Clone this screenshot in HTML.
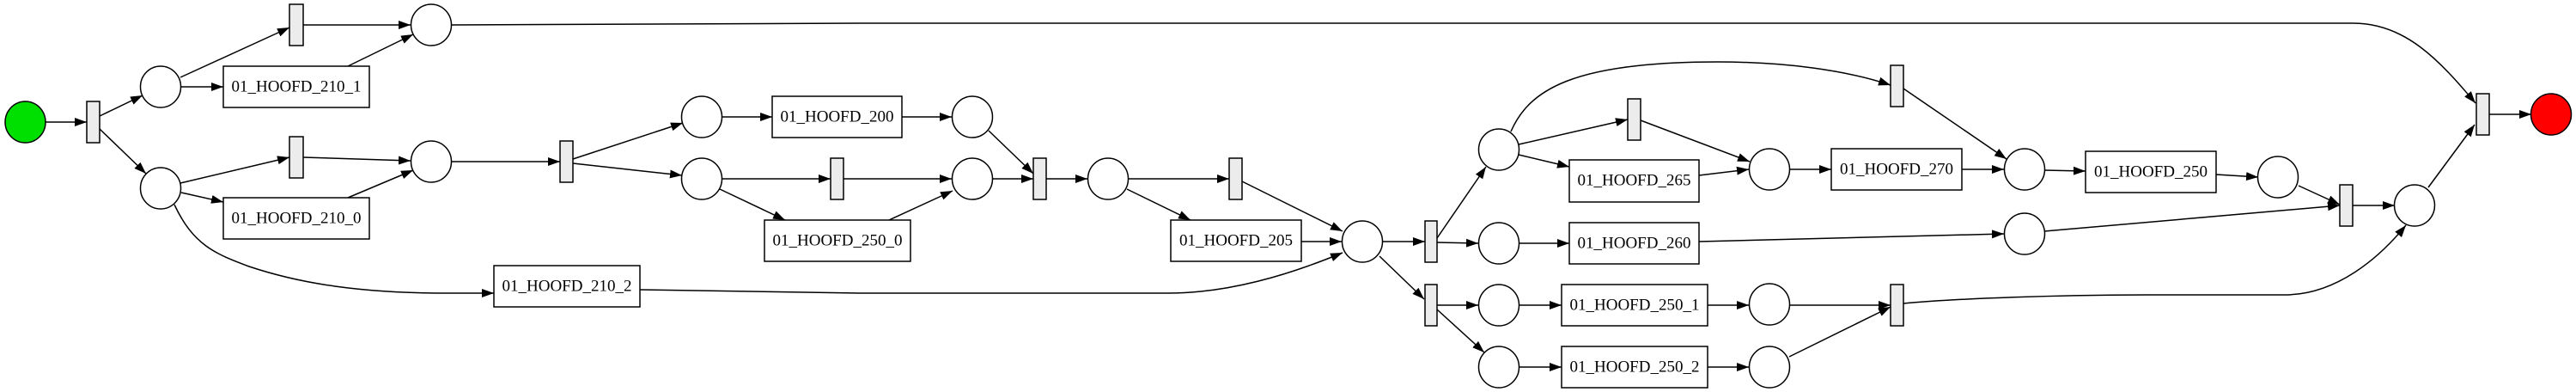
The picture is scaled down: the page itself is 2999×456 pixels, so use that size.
<!DOCTYPE html>
<html><head><meta charset="utf-8"><style>
html,body{margin:0;padding:0;background:#fff;}
svg{display:block;}
text{font-family:"Liberation Serif",serif;font-size:19px;text-anchor:middle;dominant-baseline:central;fill:#000;}
</style></head><body>
<svg width="2999" height="456" viewBox="0 0 2999 456" xmlns="http://www.w3.org/2000/svg">
<defs><marker id="a" markerUnits="userSpaceOnUse" markerWidth="15" markerHeight="11" refX="14" refY="5" orient="auto"><path d="M0,0 L14,5 L0,10 z" fill="#000"/></marker></defs>
<g fill="none" stroke="#000" stroke-width="1.5" marker-end="url(#a)">
<line x1="53" y1="142" x2="101" y2="142"/>
<line x1="116" y1="135" x2="166" y2="111"/>
<line x1="116" y1="150" x2="170" y2="202"/>
<line x1="210" y1="90" x2="337" y2="32"/>
<line x1="211" y1="101" x2="260" y2="101"/>
<line x1="353" y1="29" x2="478" y2="29"/>
<line x1="405" y1="77" x2="481" y2="40"/>
<path d="M526,29 L1000,27 L2740,27 C2800,27 2840,70 2882,120"/>
<line x1="210" y1="213" x2="337" y2="183"/>
<line x1="211" y1="224" x2="260" y2="235"/>
<line x1="353" y1="183" x2="478" y2="187"/>
<line x1="405" y1="230" x2="481" y2="198"/>
<path d="M203,238 C225,285 250,295 290,310 C350,330 420,341 520,341 L575,341"/>
<path d="M745,337 L1000,341 L1360,341 C1430,341 1500,320 1563,294"/>
<line x1="526" y1="188" x2="652" y2="188"/>
<line x1="667" y1="185" x2="795" y2="143"/>
<line x1="667" y1="190" x2="794" y2="204"/>
<line x1="841" y1="136" x2="899" y2="136"/>
<line x1="1050" y1="136" x2="1108" y2="136"/>
<line x1="1151" y1="152" x2="1203" y2="202"/>
<line x1="841" y1="208" x2="967" y2="208"/>
<line x1="982" y1="208" x2="1108" y2="208"/>
<line x1="838" y1="220" x2="914" y2="256"/>
<line x1="1035" y1="256" x2="1109" y2="222"/>
<line x1="1156" y1="208" x2="1203" y2="208"/>
<line x1="1218" y1="208" x2="1266" y2="208"/>
<line x1="1314" y1="208" x2="1431" y2="208"/>
<line x1="1312" y1="220" x2="1386" y2="256"/>
<line x1="1446" y1="211" x2="1563" y2="269"/>
<line x1="1515" y1="281" x2="1562" y2="281"/>
<line x1="1610" y1="281" x2="1659" y2="281"/>
<line x1="1606" y1="298" x2="1658" y2="348"/>
<line x1="1673" y1="277" x2="1730" y2="194"/>
<line x1="1673" y1="282" x2="1721" y2="283"/>
<line x1="1673" y1="355" x2="1721" y2="355"/>
<line x1="1673" y1="360" x2="1728" y2="410"/>
<line x1="1768" y1="168" x2="1895" y2="139"/>
<line x1="1768" y1="180" x2="1827" y2="194"/>
<path d="M1759,153 C1780,105 1830,72 2000,72 C2080,72 2150,82 2201,99"/>
<line x1="1768" y1="283" x2="1827" y2="283"/>
<line x1="1768" y1="355" x2="1818" y2="355"/>
<line x1="1768" y1="427" x2="1818" y2="427"/>
<line x1="1910" y1="140" x2="2037" y2="188"/>
<line x1="1978" y1="204" x2="2036" y2="197"/>
<line x1="2084" y1="197" x2="2132" y2="197"/>
<line x1="2284" y1="197" x2="2333" y2="197"/>
<line x1="2216" y1="103" x2="2336" y2="185"/>
<line x1="2380" y1="198" x2="2428" y2="199"/>
<line x1="2580" y1="203" x2="2629" y2="206"/>
<line x1="2676" y1="216" x2="2724" y2="238"/>
<line x1="1978" y1="281" x2="2333" y2="272"/>
<line x1="2380" y1="269" x2="2724" y2="239"/>
<line x1="2739" y1="239" x2="2788" y2="239"/>
<line x1="2827" y1="218" x2="2881" y2="145"/>
<line x1="2898" y1="133" x2="2947" y2="133"/>
<line x1="1988" y1="355" x2="2036" y2="355"/>
<line x1="2084" y1="355" x2="2201" y2="355"/>
<line x1="1988" y1="427" x2="2036" y2="427"/>
<line x1="2083" y1="415" x2="2201" y2="357"/>
<path d="M2216,353 C2280,347 2400,343 2500,343 L2660,343 C2720,343 2770,300 2801,262"/>
</g>
<g stroke="#000" stroke-width="1.5">
<ellipse cx="29.5" cy="142" rx="23.5" ry="24" fill="#00e000"/>
<ellipse cx="2970" cy="133" rx="23.5" ry="24" fill="#ff0000"/>
<g fill="#fff">
<ellipse cx="187" cy="101" rx="23.5" ry="24"/>
<ellipse cx="502" cy="29" rx="23.5" ry="24"/>
<ellipse cx="187" cy="219" rx="23.5" ry="24"/>
<ellipse cx="502" cy="188" rx="23.5" ry="24"/>
<ellipse cx="817" cy="136" rx="23.5" ry="24"/>
<ellipse cx="817" cy="208" rx="23.5" ry="24"/>
<ellipse cx="1132" cy="136" rx="23.5" ry="24"/>
<ellipse cx="1132" cy="208" rx="23.5" ry="24"/>
<ellipse cx="1290" cy="208" rx="23.5" ry="24"/>
<ellipse cx="1586" cy="281" rx="23.5" ry="24"/>
<ellipse cx="1745" cy="174" rx="23.5" ry="24"/>
<ellipse cx="1745" cy="283" rx="23.5" ry="24"/>
<ellipse cx="1745" cy="355" rx="23.5" ry="24"/>
<ellipse cx="1745" cy="427" rx="23.5" ry="24"/>
<ellipse cx="2060" cy="197" rx="23.5" ry="24"/>
<ellipse cx="2357" cy="197" rx="23.5" ry="24"/>
<ellipse cx="2652" cy="206" rx="23.5" ry="24"/>
<ellipse cx="2357" cy="272" rx="23.5" ry="24"/>
<ellipse cx="2811" cy="239" rx="23.5" ry="24"/>
<ellipse cx="2060" cy="354" rx="23.5" ry="24"/>
<ellipse cx="2060" cy="427" rx="23.5" ry="24"/>
<rect x="260" y="77" width="170" height="48"/>
<rect x="260" y="230" width="170" height="48"/>
<rect x="575" y="309" width="170" height="48"/>
<rect x="899" y="112" width="151" height="48"/>
<rect x="890" y="256" width="170" height="48"/>
<rect x="1363" y="256" width="152" height="48"/>
<rect x="1827" y="186" width="151" height="49"/>
<rect x="1827" y="259" width="151" height="48"/>
<rect x="1818" y="331" width="170" height="48"/>
<rect x="1818" y="403" width="170" height="48"/>
<rect x="2132" y="173" width="152" height="48"/>
<rect x="2428" y="176" width="152" height="48"/>
</g>
<g fill="#ececec">
<rect x="101" y="118" width="15" height="48"/>
<rect x="337" y="5" width="16" height="48"/>
<rect x="337" y="159" width="16" height="48"/>
<rect x="652" y="164" width="15" height="48"/>
<rect x="967" y="184" width="15" height="48"/>
<rect x="1203" y="184" width="15" height="48"/>
<rect x="1431" y="184" width="15" height="48"/>
<rect x="1659" y="257" width="14" height="48"/>
<rect x="1659" y="331" width="14" height="48"/>
<rect x="1895" y="115" width="15" height="48"/>
<rect x="2201" y="76" width="15" height="48"/>
<rect x="2724" y="215" width="15" height="48"/>
<rect x="2883" y="109" width="15" height="48"/>
<rect x="2201" y="331" width="15" height="48"/>
</g>
</g>
<text x="345" y="101">01_HOOFD_210_1</text>
<text x="345" y="254">01_HOOFD_210_0</text>
<text x="660" y="333">01_HOOFD_210_2</text>
<text x="974.5" y="136">01_HOOFD_200</text>
<text x="975" y="280">01_HOOFD_250_0</text>
<text x="1439" y="280">01_HOOFD_205</text>
<text x="1902.5" y="210">01_HOOFD_265</text>
<text x="1902.5" y="283">01_HOOFD_260</text>
<text x="1903" y="355">01_HOOFD_250_1</text>
<text x="1903" y="427">01_HOOFD_250_2</text>
<text x="2208" y="197">01_HOOFD_270</text>
<text x="2504" y="200">01_HOOFD_250</text>
</svg>
</body></html>
